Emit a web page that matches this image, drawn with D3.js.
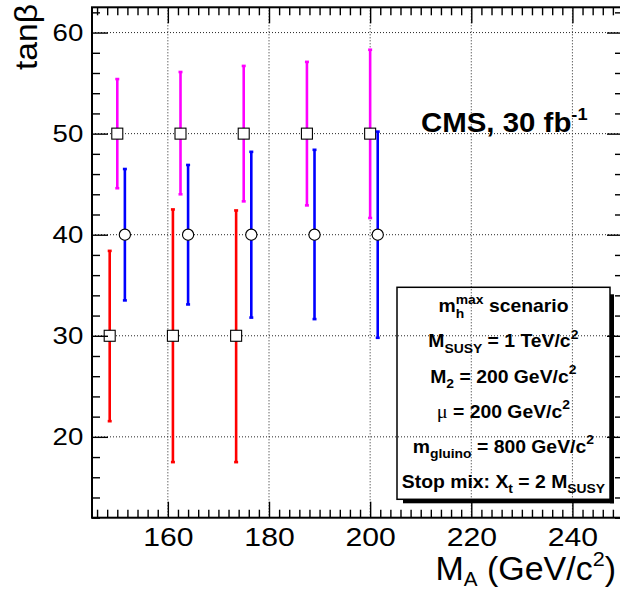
<!DOCTYPE html>
<html><head><meta charset="utf-8">
<script src="https://cdn.jsdelivr.net/npm/d3@7"></script>
<style>html,body{margin:0;padding:0;background:#fff;} svg{display:block;}</style>
</head><body>
<svg id="chart" width="620" height="593"></svg>
<script>
// ---------- data ----------
const redX = [148.5, 161.0, 173.5];
const redY = [30, 30, 30];
const redLow = [21.55, 17.5, 17.5];
const redHigh = [38.4, 42.5, 42.4];

const magentaX = [150.0, 162.5, 175.0, 187.5, 200.0];
const magentaY = [50, 50, 50, 50, 50];
const magentaLow = [44.6, 44.0, 43.3, 42.9, 41.65];
const magentaHigh = [55.4, 56.1, 56.7, 57.1, 58.3];

const blueX = [151.5, 164.0, 176.5, 189.0, 201.5];
const blueY = [40, 40, 40, 40, 40];
const blueLow = [33.5, 33.1, 31.8, 31.65, 29.8];
const blueHigh = [46.5, 46.9, 48.2, 48.4, 50.2];

const xDomain = [145, 250];
const yDomain = [12, 62.5];
const xMajorTicks = [160, 180, 200, 220, 240];
const yMajorTicks = [20, 30, 40, 50, 60];
const xMinorTicks = d3.range(146, 251, 2).filter(v => !xMajorTicks.includes(v));
const yMinorTicks = d3.range(12, 63, 2).filter(v => !yMajorTicks.includes(v));

const yTitle = [["tan", ""], ["β", ""]];
const xTitle = [["M", ""], ["A", "sub"], [" (GeV/c", ""], ["2", "sup"], [")", ""]];
const cmsLabel = [["CMS, 30 fb", ""], ["-1", "sup"]];
const legendLines = [
  [["m", ""], ["h", "sub"], ["max", "supStack"], [" scenario", ""]],
  [["M", ""], ["SUSY", "sub"], [" = 1 TeV/c", ""], ["2", "sup"]],
  [["M", ""], ["2", "sub"], [" = 200 GeV/c", ""], ["2", "sup"]],
  [["μ", "sym"], [" = 200 GeV/c", ""], ["2", "sup"]],
  [["m", ""], ["gluino", "sub"], [" = 800 GeV/c", ""], ["2", "sup"]],
  [["Stop mix: X", ""], ["t", "sub"], [" = 2 M", ""], ["SUSY", "sub"]]
];

// ---------- layout ----------
const FONT = "'Liberation Sans', Arial, Helvetica, sans-serif";
const SYMFONT = "'Liberation Serif', 'DejaVu Serif', serif";
const L = 92, R = 623, T = 7.3, B = 517.7;

const svg = d3.select("#chart");
svg.append("rect").attr("width", 620).attr("height", 593).attr("fill", "#fff");

const x = d3.scaleLinear().domain(xDomain).range([L, R]);
const y = d3.scaleLinear().domain(yDomain).range([B, T]);

// ---------- grid ----------
const grid = svg.append("g").attr("stroke", "#000").attr("stroke-width", 1)
  .attr("stroke-dasharray", "1,2").attr("opacity", 0.85);
grid.selectAll("line.gx").data(xMajorTicks).join("line")
  .attr("x1", d => x(d)).attr("x2", d => x(d)).attr("y1", T).attr("y2", B);
grid.selectAll("line.gy").data(yMajorTicks).join("line")
  .attr("y1", d => y(d)).attr("y2", d => y(d)).attr("x1", L).attr("x2", R);

// ---------- rich text helper ----------
function richText(parent, segs, o) {
  const tr = `translate(${o.x},${o.y})` + (o.rotate ? ` rotate(${o.rotate})` : "") + ` scale(${o.sx || 1},1)`;
  const g = parent.append("g").attr("transform", tr);
  const t = g.append("text").attr("font-family", FONT).attr("font-weight", o.weight || "normal")
    .attr("font-size", o.size).attr("fill", "#000").attr("x", 0).attr("y", 0);
  let cur = 0, prevLen = 0;
  segs.forEach(([str, kind]) => {
    const ts = t.append("tspan").text(str);
    let off = 0, size = o.size;
    if (kind === "sub") { off = o.subOff; size = o.subSize; }
    else if (kind === "sup" || kind === "supStack") { off = o.supOff; size = o.supSize || o.subSize; }
    else if (kind === "sym") { ts.attr("font-family", SYMFONT).attr("font-weight", "normal"); size = o.size * 1.05; }
    ts.attr("font-size", size);
    if (off !== cur) ts.attr("dy", off - cur);
    cur = off;
    if (kind === "supStack") ts.attr("dx", -prevLen);
    prevLen = ts.node().getComputedTextLength();
  });
  const bb = t.node().getBBox();
  let shift = 0;
  if (o.anchor === "middle") shift = -(bb.x + bb.width / 2);
  else if (o.anchor === "end") shift = -(bb.x + bb.width);
  t.attr("x", shift);
  return g;
}

// ---------- error bars & markers ----------
function drawSeries(xs, ys, lows, highs, color, marker) {
  const g = svg.append("g");
  const pts = xs.map((v, i) => ({ x: v, y: ys[i], lo: lows[i], hi: highs[i] }));
  g.selectAll("line.bar").data(pts).join("line")
    .attr("x1", d => x(d.x)).attr("x2", d => x(d.x))
    .attr("y1", d => y(d.lo)).attr("y2", d => y(d.hi))
    .attr("stroke", color).attr("stroke-width", 2.6);
  ["lo", "hi"].forEach(k => {
    g.selectAll("line.cap" + k).data(pts).join("line")
      .attr("x1", d => x(d.x) - 2).attr("x2", d => x(d.x) + 2)
      .attr("y1", d => y(d[k])).attr("y2", d => y(d[k]))
      .attr("stroke", color).attr("stroke-width", 2.6);
  });
  if (marker === "square") {
    g.selectAll("rect.m").data(pts).join("rect")
      .attr("x", d => x(d.x) - 5.5).attr("y", d => y(d.y) - 5.5)
      .attr("width", 11).attr("height", 11)
      .attr("fill", "#fff").attr("stroke", "#000").attr("stroke-width", 1.1);
  } else {
    g.selectAll("circle.m").data(pts).join("circle")
      .attr("cx", d => x(d.x)).attr("cy", d => y(d.y)).attr("r", 5.6)
      .attr("fill", "#fff").attr("stroke", "#000").attr("stroke-width", 1.1);
  }
}
drawSeries(redX, redY, redLow, redHigh, "#ff0000", "square");
drawSeries(magentaX, magentaY, magentaLow, magentaHigh, "#ff00ff", "square");
drawSeries(blueX, blueY, blueLow, blueHigh, "#0000ff", "circle");

// ---------- axes ----------
function styleAxis(g) {
  g.select(".domain").remove();
  g.selectAll(".tick line").attr("stroke", "#000").attr("stroke-width", 1.4);
}
svg.append("g").attr("transform", `translate(0,${B})`)
  .call(d3.axisBottom(x).tickValues(xMinorTicks).tickSize(-8).tickFormat("")).call(styleAxis);
const xb = svg.append("g").attr("transform", `translate(0,${B})`)
  .call(d3.axisBottom(x).tickValues(xMajorTicks).tickSizeInner(-16).tickSizeOuter(0).tickPadding(9.6).tickFormat(d3.format("d")))
  .call(styleAxis);
xb.selectAll(".tick text").attr("font-family", FONT).attr("font-size", 26).attr("fill", "#000")
  .attr("transform", "scale(1.16,1)");

svg.append("g").attr("transform", `translate(0,${T})`)
  .call(d3.axisTop(x).tickValues(xMinorTicks).tickSize(-8).tickFormat("")).call(styleAxis);
svg.append("g").attr("transform", `translate(0,${T})`)
  .call(d3.axisTop(x).tickValues(xMajorTicks).tickSize(-16).tickFormat("")).call(styleAxis);

svg.append("g").attr("transform", `translate(${L},0)`)
  .call(d3.axisLeft(y).tickValues(yMinorTicks).tickSize(-8).tickFormat("")).call(styleAxis);
const yl = svg.append("g").attr("transform", `translate(${L},0)`)
  .call(d3.axisLeft(y).tickValues(yMajorTicks).tickSizeInner(-16).tickSizeOuter(0).tickPadding(8.7).tickFormat(d3.format("d")))
  .call(styleAxis);
yl.selectAll(".tick text").attr("font-family", FONT).attr("font-size", 24).attr("fill", "#000")
  .attr("x", -8.7 / 1.15).attr("transform", "scale(1.15,1)");

svg.append("g").attr("transform", `translate(${R},0)`)
  .call(d3.axisRight(y).tickValues(yMinorTicks).tickSize(-8).tickFormat("")).call(styleAxis);
svg.append("g").attr("transform", `translate(${R},0)`)
  .call(d3.axisRight(y).tickValues(yMajorTicks).tickSize(-16).tickFormat("")).call(styleAxis);

// frame
svg.append("rect").attr("x", L).attr("y", T).attr("width", R - L).attr("height", B - T)
  .attr("fill", "none").attr("stroke", "#000").attr("stroke-width", 2);

// ---------- titles ----------
richText(svg, yTitle, { x: 37, y: 4, rotate: -90, size: 32, sx: 1.05, anchor: "end", subSize: 20, subOff: 8, supOff: -12 });
richText(svg, xTitle, { x: 616, y: 580, size: 33, sx: 1.03, anchor: "end", subSize: 20, subOff: 6, supSize: 21, supOff: -14 });
richText(svg, cmsLabel, { x: 421, y: 132.3, size: 27.5, sx: 1.07, weight: "bold", anchor: "start", subSize: 17, supOff: -12 });

// ---------- legend box ----------
const bx0 = 397, by0 = 287.3, bx1 = 610, by1 = 499.3;
svg.append("rect").attr("x", bx1).attr("y", by0 + 7).attr("width", 4).attr("height", by1 - by0 - 3).attr("fill", "#000");
svg.append("rect").attr("x", bx0 + 6).attr("y", by1).attr("width", bx1 - bx0 - 2).attr("height", 4).attr("fill", "#000");
svg.append("rect").attr("x", bx0).attr("y", by0).attr("width", bx1 - bx0).attr("height", by1 - by0)
  .attr("fill", "none").attr("stroke", "#000").attr("stroke-width", 1.5);

const lineBaselines = d3.range(legendLines.length).map(i => 312.3 + i * 35.1);
legendLines.forEach((segs, i) => {
  richText(svg, segs, { x: 503.5, y: lineBaselines[i], size: 18.8, sx: 1.03, weight: "bold", anchor: "middle",
    subSize: 13.5, subOff: 5.5, supOff: -8.5 });
});
</script>
</body></html>
